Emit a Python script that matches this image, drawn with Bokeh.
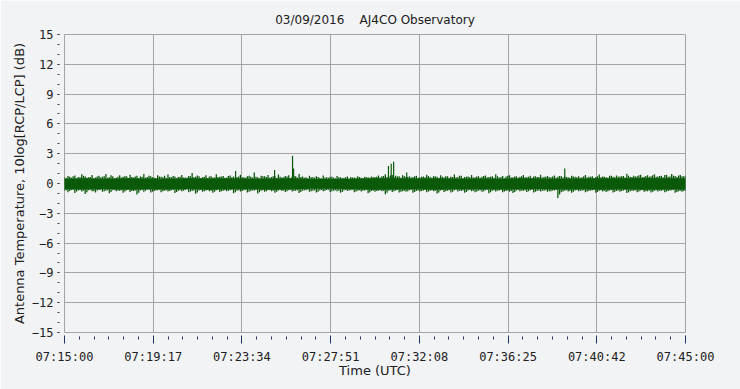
from bokeh.plotting import figure
from bokeh.models import Range1d, FixedTicker, InlineStyleSheet
from bokeh.embed import file_html
from bokeh.resources import INLINE

# ---- data ----
title_text = "03/09/2016\u00a0\u00a0\u00a0\u00a0AJ4CO Observatory"
x_label = "Time (UTC)"
y_label = "Antenna Temperature, 10log[RCP/LCP] (dB)"
tick_labels = ["07:15:00", "07:19:17", "07:23:34", "07:27:51",
               "07:32:08", "07:36:25", "07:40:42", "07:45:00"]
span_s = 1800  # seconds shown (07:15:00 .. 07:45:00)
y_ticks = [-15, -12, -9, -6, -3, 0, 3, 6, 9, 12, 15]

# extremes of the noisy trace, one value every 10 s from 07:15:00
t = list(range(0, 1801, 10))
hi = [0.62, 0.75, 0.58, 0.81, 0.66, 0.92, 0.70, 0.64, 0.85, 0.60,
      0.78, 0.68, 0.95, 0.63, 0.72, 0.59, 0.83, 0.67, 0.74, 0.88,
      0.61, 0.79, 0.70, 0.96, 0.65, 0.73, 0.58, 0.84, 0.69, 0.77,
      0.90, 0.62, 0.71, 0.66, 0.86, 0.60, 0.75, 1.05, 0.68, 0.72,
      0.64, 0.82, 0.70, 0.61, 0.93, 0.67, 0.76, 0.59, 0.80, 0.71,
      0.66, 0.87, 0.62, 0.74, 0.69, 1.10, 0.63, 0.78, 0.72, 0.85,
      0.65, 0.70, 0.90, 0.61, 0.76, 0.83, 0.68, 0.74, 0.95, 0.70,
      0.62, 0.78, 0.66, 0.72, 0.58, 0.81, 0.64, 0.69, 0.60, 0.75,
      0.63, 0.57, 0.70, 0.66, 0.61, 0.73, 0.59, 0.68, 0.62, 0.71,
      0.66, 0.80, 0.74, 0.92, 0.70, 0.86, 0.78, 0.72, 0.84, 0.68,
      0.73, 0.65, 0.79, 0.61, 0.70, 0.88, 0.64, 0.75, 0.67, 0.82,
      0.60, 0.72, 0.69, 0.91, 0.63, 0.77, 0.66, 0.71, 0.85, 0.62,
      0.74, 0.68, 0.80, 0.65, 0.72, 0.94, 0.61, 0.76, 0.70, 0.83,
      0.64, 0.73, 0.67, 0.86, 0.62, 0.78, 0.71, 0.66, 0.89, 0.69,
      0.75, 0.63, 0.81, 0.68, 0.72, 0.70, 0.64, 0.79, 0.67, 0.74,
      0.62, 0.85, 0.69, 0.73, 0.66, 0.90, 0.71, 0.64, 0.77, 0.68,
      0.80, 0.70, 0.75, 0.97, 0.66, 0.78, 0.72, 0.88, 0.69, 0.83,
      0.74, 0.92, 0.70, 0.79, 0.85, 0.68, 0.96, 0.76, 0.81, 0.73,
      0.78]
lo = [-0.72, -0.88, -0.65, -0.95, -0.70, -0.81, -1.05, -0.68, -0.77, -0.90,
      -0.66, -0.84, -0.74, -0.98, -0.69, -0.79, -0.72, -0.93, -0.67, -0.85,
      -0.75, -1.10, -0.70, -0.82, -0.64, -0.91, -0.76, -0.69, -0.87, -0.73,
      -0.80, -0.68, -0.95, -0.72, -0.78, -0.66, -0.89, -0.75, -1.02, -0.70,
      -0.83, -0.71, -0.77, -0.94, -0.68, -0.86, -0.74, -0.79, -0.69, -0.97,
      -0.72, -0.81, -0.67, -0.90, -0.76, -0.70, -1.00, -0.73, -0.84, -0.68,
      -0.79, -0.92, -0.71, -0.75, -0.86, -0.69, -0.80, -0.74, -0.95, -0.72,
      -0.68, -0.83, -0.73, -0.90, -0.70, -0.77, -0.66, -0.85, -0.72, -0.79,
      -0.93, -0.71, -0.76, -0.68, -0.88, -0.74, -0.80, -0.70, -0.98, -0.75,
      -0.82, -0.72, -0.78, -1.08, -0.74, -0.86, -0.70, -0.91, -0.77, -0.84,
      -0.69, -0.94, -0.75, -0.81, -0.71, -0.87, -0.73, -0.79, -1.00, -0.70,
      -0.85, -0.74, -0.90, -0.68, -0.80, -0.76, -0.93, -0.71, -0.78, -0.88,
      -0.72, -0.83, -0.69, -0.97, -0.74, -0.80, -0.70, -0.89, -0.76, -0.82,
      -0.95, -0.71, -0.78, -0.73, -0.86, -0.69, -0.91, -0.75, -0.80, -0.72,
      -0.84, -0.77, -0.70, -1.45, -0.88, -0.74, -0.81, -0.92, -0.71, -0.79,
      -0.73, -0.87, -0.76, -0.69, -0.94, -0.72, -0.80, -0.85, -0.70, -0.90,
      -0.75, -0.82, -0.71, -0.96, -0.78, -0.73, -0.88, -0.70, -0.84, -0.77,
      -0.91, -0.74, -0.80, -0.72, -0.87, -0.76, -0.69, -0.93, -0.78, -0.83,
      -0.75]

# extremes for the samples in between, every 10 s from 07:15:05
t2 = list(range(5, 1800, 10))
hi2 = [0.55, 0.68, 0.72, 0.50, 0.63, 0.77, 0.58, 0.66, 0.52, 0.70,
       0.61, 0.74, 0.57, 0.82, 0.54, 0.69, 0.60, 0.73, 0.56, 0.65,
       0.71, 0.53, 0.67, 0.59, 0.78, 0.62, 0.55, 0.70, 0.64, 0.58,
       0.66, 0.75, 0.52, 0.69, 0.61, 0.57, 0.72, 0.63, 0.80, 0.56,
       0.68, 0.54, 0.73, 0.60, 0.65, 0.71, 0.58, 0.76, 0.62, 0.55,
       0.70, 0.64, 0.57, 0.79, 0.61, 0.67, 0.53, 0.72, 0.66, 0.59,
       0.74, 0.56, 0.68, 0.62, 0.71, 0.55, 0.77, 0.60, 0.65, 0.58,
       0.52, 0.63, 0.57, 0.66, 0.54, 0.61, 0.59, 0.68, 0.53, 0.62,
       0.56, 0.64, 0.51, 0.60, 0.58, 0.65, 0.55, 0.62, 0.57, 0.63,
       0.69, 0.60, 0.75, 0.66, 0.81, 0.63, 0.70, 0.58, 0.73, 0.65,
       0.61, 0.72, 0.57, 0.68, 0.64, 0.76, 0.59, 0.70, 0.55, 0.67,
       0.73, 0.58, 0.66, 0.62, 0.79, 0.56, 0.69, 0.64, 0.60, 0.71,
       0.57, 0.75, 0.63, 0.68, 0.59, 0.72, 0.66, 0.54, 0.78, 0.61,
       0.70, 0.58, 0.74, 0.62, 0.67, 0.56, 0.73, 0.65, 0.60, 0.69,
       0.63, 0.71, 0.57, 0.76, 0.61, 0.66, 0.59, 0.70, 0.64, 0.58,
       0.72, 0.60, 0.67, 0.55, 0.74, 0.63, 0.69, 0.58, 0.77, 0.62,
       0.68, 0.73, 0.61, 0.79, 0.65, 0.70, 0.84, 0.64, 0.75, 0.67,
       0.82, 0.69, 0.76, 0.63, 0.88, 0.71, 0.78, 0.66, 0.85, 0.72]
lo2 = [-0.68, -0.75, -0.62, -0.81, -0.66, -0.72, -0.88, -0.64, -0.77, -0.70,
       -0.63, -0.79, -0.69, -0.85, -0.65, -0.73, -0.67, -0.80, -0.61, -0.76,
       -0.71, -0.92, -0.66, -0.74, -0.62, -0.83, -0.70, -0.64, -0.78, -0.68,
       -0.75, -0.63, -0.86, -0.69, -0.72, -0.61, -0.80, -0.71, -0.90, -0.66,
       -0.77, -0.65, -0.73, -0.84, -0.64, -0.79, -0.68, -0.74, -0.63, -0.87,
       -0.69, -0.76, -0.62, -0.82, -0.71, -0.66, -0.89, -0.67, -0.78, -0.64,
       -0.74, -0.83, -0.66, -0.70, -0.79, -0.63, -0.75, -0.69, -0.86, -0.67,
       -0.64, -0.77, -0.68, -0.82, -0.65, -0.72, -0.62, -0.79, -0.67, -0.73,
       -0.85, -0.66, -0.71, -0.63, -0.80, -0.69, -0.74, -0.65, -0.88, -0.70,
       -0.76, -0.67, -0.73, -0.94, -0.69, -0.79, -0.65, -0.83, -0.72, -0.78,
       -0.64, -0.85, -0.70, -0.75, -0.66, -0.80, -0.68, -0.73, -0.90, -0.65,
       -0.79, -0.69, -0.82, -0.63, -0.74, -0.71, -0.86, -0.66, -0.72, -0.80,
       -0.67, -0.77, -0.64, -0.88, -0.69, -0.74, -0.65, -0.81, -0.71, -0.76,
       -0.86, -0.66, -0.72, -0.68, -0.79, -0.64, -0.83, -0.70, -0.74, -0.67,
       -0.78, -0.71, -0.65, -1.10, -0.81, -0.69, -0.75, -0.84, -0.66, -0.73,
       -0.68, -0.80, -0.71, -0.64, -0.86, -0.67, -0.74, -0.78, -0.65, -0.82,
       -0.70, -0.76, -0.66, -0.87, -0.72, -0.68, -0.81, -0.65, -0.77, -0.71,
       -0.84, -0.69, -0.74, -0.67, -0.80, -0.71, -0.64, -0.85, -0.72, -0.76]

# dense core of the trace, one value every 60 s
tc = list(range(0, 1801, 60))
core_hi = [0.49, 0.52, 0.47, 0.53, 0.51, 0.48, 0.54, 0.50, 0.52, 0.47,
           0.51, 0.53, 0.46, 0.45, 0.47, 0.54, 0.52, 0.50, 0.53, 0.48,
           0.51, 0.49, 0.52, 0.50, 0.47, 0.51, 0.53, 0.52, 0.55, 0.54,
           0.53]
core_lo = [-0.57, -0.60, -0.55, -0.62, -0.58, -0.61, -0.56, -0.63, -0.59, -0.57,
           -0.62, -0.58, -0.54, -0.53, -0.57, -0.63, -0.60, -0.59, -0.62, -0.57,
           -0.59, -0.61, -0.58, -0.56, -0.60, -0.57, -0.62, -0.59, -0.63, -0.61,
           -0.60]

# isolated spikes (seconds after 07:15:00, dB)
spike_t = [496, 609, 661, 664, 939, 947, 954, 992, 1450]
spike_v = [1.25, 1.35, 2.8, 1.5, 1.75, 2.0, 2.2, 1.1, 1.5]

# ---- styling ----
BG = "#F2F3F5"
GRID = "#A4A4A4"
GREEN = "#0A5A0A"

p = figure(width=740, height=389, output_backend="svg", toolbar_location=None,
           x_range=Range1d(0, span_s), y_range=Range1d(-15, 15),
           min_border_left=64, min_border_right=55,
           min_border_top=34, min_border_bottom=57,
           background_fill_color=BG, border_fill_color=BG,
           title=title_text)

p.stylesheets = [InlineStyleSheet(css=":host { outline: 1px solid #9A9A9A; outline-offset: -2px; }")]

p.title.align = "center"
p.title.text_font = "DejaVu Sans"
p.title.text_font_size = "12px"
p.title.text_font_style = "normal"
p.title.text_color = "#202020"
p.title.standoff = 15

p.outline_line_color = GRID

# data
p.varea(x=tc, y1=core_lo, y2=core_hi, fill_color=GREEN)
p.segment(x0=t, y0=lo, x1=t, y1=hi, line_color=GREEN, line_width=1.3)
p.segment(x0=t2, y0=lo2, x1=t2, y1=hi2, line_color=GREEN, line_width=1.3)
p.segment(x0=spike_t, y0=[0] * len(spike_t), x1=spike_t, y1=spike_v,
          line_color=GREEN, line_width=1.2)

# x axis
n = len(tick_labels) - 1
xt = [span_s * k / n for k in range(n + 1)]
xminor = [span_s * k / (n * 6) for k in range(n * 6 + 1)]
p.xaxis.ticker = FixedTicker(ticks=xt, minor_ticks=xminor)
p.xaxis.major_label_overrides = {v: lab for v, lab in zip(xt, tick_labels)}
p.xaxis.axis_label = x_label

# y axis
p.yaxis.ticker = FixedTicker(ticks=y_ticks, minor_ticks=list(range(-15, 16)))
p.yaxis.axis_label = y_label

for ax in (p.xaxis[0], p.yaxis[0]):
    ax.axis_line_color = None
    ax.major_tick_line_color = "#203060"
    ax.minor_tick_line_color = "#203060"
    ax.major_label_text_font = "DejaVu Sans Mono"
    ax.major_label_text_font_size = "12px"
    ax.major_label_text_color = "#202020"
    ax.axis_label_text_font = "DejaVu Sans"
    ax.axis_label_text_font_size = "13px"
    ax.axis_label_text_font_style = "normal"
    ax.axis_label_text_color = "#202020"

p.xaxis.major_tick_in = -3
p.xaxis.major_tick_out = 11
p.xaxis.minor_tick_in = -4
p.xaxis.minor_tick_out = 7
p.xaxis.major_label_standoff = 6
p.xaxis.axis_label_standoff = -4

p.yaxis.major_tick_in = -5
p.yaxis.major_tick_out = 7
p.yaxis.minor_tick_in = -5
p.yaxis.minor_tick_out = 7
p.yaxis.major_label_standoff = 4
p.yaxis.axis_label_standoff = 2
p.yaxis.major_tick_line_color = "#404040"
p.yaxis.minor_tick_line_color = "#404040"

p.xgrid.grid_line_color = GRID
p.ygrid.grid_line_color = GRID
p.xgrid.ticker = FixedTicker(ticks=xt)
p.ygrid.ticker = FixedTicker(ticks=y_ticks)

open("out.html", "w").write(file_html(p, INLINE))
